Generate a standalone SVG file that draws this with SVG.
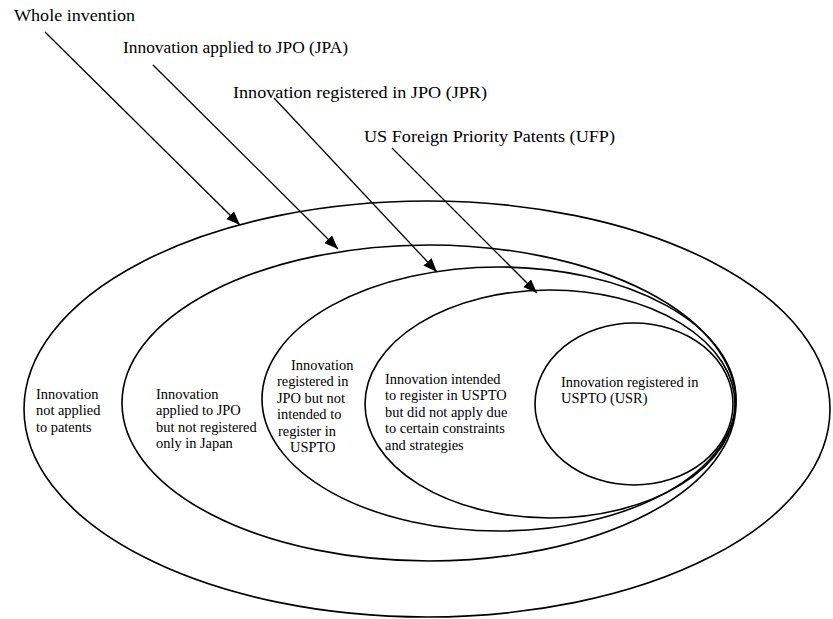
<svg xmlns="http://www.w3.org/2000/svg" width="833" height="619" viewBox="0 0 833 619">
<style>
.e{fill:none;stroke:#000;stroke-width:1.6}
.c{fill:none;stroke:#000;stroke-width:1.3}
text{font-family:'Liberation Serif','DejaVu Serif',serif;fill:#000}
.t{font-size:14.4px}
.h{font-size:17.5px}
</style>
<defs>
<marker id="ah" markerUnits="userSpaceOnUse" markerWidth="14" markerHeight="12" refX="14" refY="5.5" orient="auto">
<path d="M0,0 L14,5.5 L0,11 z" fill="#000"/>
</marker>
</defs>
<rect width="833" height="619" fill="#fff"/>
<g id="whole">
<ellipse class="e" cx="427" cy="409" rx="403" ry="208"/>
<text class="t" x="36" y="399">Innovation</text>
<text class="t" x="36" y="415">not applied</text>
<text class="t" x="36" y="432">to patents</text>
</g>
<g id="jpa">
<ellipse class="e" cx="429" cy="403" rx="307" ry="158"/>
<text class="t" x="156" y="399">Innovation</text>
<text class="t" x="156" y="415">applied to JPO</text>
<text class="t" x="156" y="432">but not registered</text>
<text class="t" x="156" y="448">only in Japan</text>
</g>
<g id="jpr">
<ellipse class="e" cx="499" cy="399" rx="237" ry="132"/>
<text class="t" x="291" y="370">Innovation</text>
<text class="t" x="277" y="386">registered in</text>
<text class="t" x="277" y="403">JPO but not</text>
<text class="t" x="277" y="419">intended to</text>
<text class="t" x="278" y="436">register in</text>
<text class="t" x="290" y="452">USPTO</text>
</g>
<g id="ufp">
<ellipse class="e" cx="550" cy="404" rx="185" ry="114"/>
<text class="t" x="385" y="384">Innovation intended</text>
<text class="t" x="385" y="400">to register in USPTO</text>
<text class="t" x="385" y="417">but did not apply due</text>
<text class="t" x="385" y="433">to certain constraints</text>
<text class="t" x="385" y="450">and strategies</text>
</g>
<g id="usr">
<ellipse class="e" cx="634" cy="404" rx="99" ry="81"/>
<text class="t" x="561" y="387">Innovation registered in</text>
<text class="t" x="561" y="403">USPTO (USR)</text>
</g>
<g id="labels">
<text class="h" x="14" y="21" textLength="121" lengthAdjust="spacingAndGlyphs">Whole invention</text>
<text class="h" x="123" y="53" textLength="225" lengthAdjust="spacingAndGlyphs">Innovation applied to JPO (JPA)</text>
<text class="h" x="233" y="98" textLength="254" lengthAdjust="spacingAndGlyphs">Innovation registered in JPO (JPR)</text>
<text class="h" x="364" y="142" textLength="251" lengthAdjust="spacingAndGlyphs">US Foreign Priority Patents (UFP)</text>
</g>
<g id="connectors">
<line class="c" x1="45" y1="32" x2="240" y2="225" marker-end="url(#ah)"/>
<line class="c" x1="153" y1="65" x2="338" y2="249" marker-end="url(#ah)"/>
<line class="c" x1="274" y1="98" x2="437" y2="272" marker-end="url(#ah)"/>
<line class="c" x1="392" y1="148" x2="537" y2="293" marker-end="url(#ah)"/>
</g>
</svg>
